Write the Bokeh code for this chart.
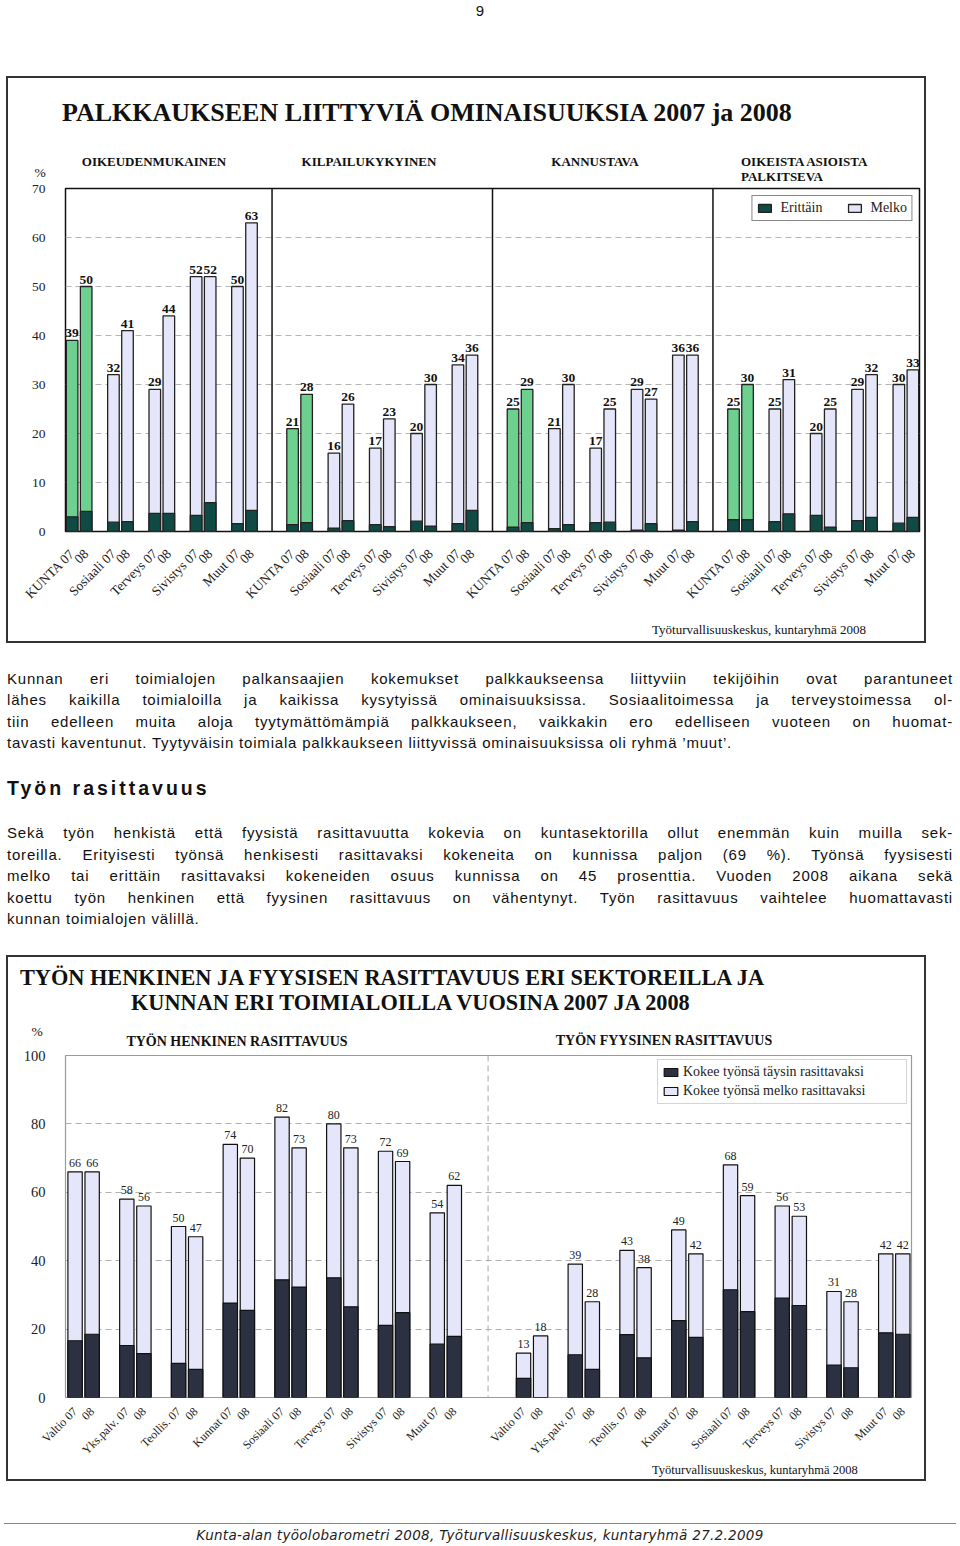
import math
from bokeh.plotting import figure
from bokeh.models import (ColumnDataSource, FixedTicker, Span, Legend,
                          LegendItem, Div, Range1d)
from bokeh.layouts import column
from bokeh.embed import file_html
from bokeh.resources import INLINE
from bokeh.core.properties import value

# ------------------------------------------------------------------ data 1
aspects = ["OIKEUDENMUKAINEN", "KILPAILUKYKYINEN", "KANNUSTAVA",
           "OIKEISTA ASIOISTA", "PALKITSEVA"]
sectors1 = ["KUNTA", "Sosiaali", "Terveys", "Sivistys", "Muut"]
years = ["07", "08"]
# order: KUNTA07, KUNTA08, Sosiaali07, 08, Terveys07, 08, Sivistys07, 08, Muut07, 08
total_oikeud = [39, 50, 32, 41, 29, 44, 52, 52, 50, 63]
erit_oikeud = [3.0, 4.1, 1.9, 2.0, 3.7, 3.7, 3.3, 5.9, 1.6, 4.3]
total_kilp = [21, 28, 16, 26, 17, 23, 20, 30, 34, 36]
erit_kilp = [1.4, 1.8, 0.7, 2.2, 1.4, 1.0, 2.1, 1.1, 1.6, 4.3]
total_kann = [25, 29, 21, 30, 17, 25, 29, 27, 36, 36]
erit_kann = [0.9, 1.8, 0.6, 1.4, 1.8, 1.9, 0.3, 1.6, 0.3, 2.0]
total_palk = [25, 30, 25, 31, 20, 25, 29, 32, 30, 33]
erit_palk = [2.4, 2.4, 2.0, 3.6, 3.3, 0.9, 2.2, 2.9, 1.7, 2.9]
totals1 = [total_oikeud, total_kilp, total_kann, total_palk]
erits1 = [erit_oikeud, erit_kilp, erit_kann, erit_palk]
y1_ticks = [0, 10, 20, 30, 40, 50, 60, 70]
title1 = "PALKKAUKSEEN LIITTYVIÄ OMINAISUUKSIA 2007 ja 2008"
source_txt = "Työturvallisuuskeskus, kuntaryhmä 2008"

# ------------------------------------------------------------------ data 2
sectors2 = ["Valtio", "Yks.palv.", "Teollis.", "Kunnat", "Sosiaali",
            "Terveys", "Sivistys", "Muut"]
# order: Valtio07, 08, Yks07, 08, ...
henk_total = [66, 66, 58, 56, 50, 47, 74, 70, 82, 73, 80, 73, 72, 69, 54, 62]
henk_taysin = [16.6, 18.5, 15.2, 12.8, 10.0, 8.2, 27.6, 25.5, 34.4, 32.3,
               35.0, 26.5, 21.1, 24.8, 15.6, 17.9]
fyys_total = [13, 18, 39, 28, 43, 38, 49, 42, 68, 59, 56, 53, 31, 28, 42, 42]
fyys_taysin = [5.6, 0.0, 12.5, 8.2, 18.4, 11.6, 22.5, 17.6, 31.5, 25.1,
               29.1, 26.9, 9.5, 8.7, 18.9, 18.5]
y2_ticks = [0, 20, 40, 60, 80, 100]
title2a = "TYÖN HENKINEN JA FYYSISEN RASITTAVUUS ERI SEKTOREILLA JA"
title2b = "KUNNAN ERI TOIMIALOILLA VUOSINA 2007 JA 2008"
sub2 = ["TYÖN HENKINEN RASITTAVUUS", "TYÖN FYYSINEN RASITTAVUUS"]

SERIF = "Liberation Serif"
CSS_SERIF = "'Liberation Serif','Times New Roman',serif"
CSS_SANS = "'Liberation Sans',Arial,sans-serif"
DARK1 = "#0f4a44"
GREEN = "#6dd08f"
LAV = "#e6e6fa"
DARK2 = "#2c3142"
BOX = {"border": "2px solid #333"}


def abs_text(left, cy, text, size, bold=False, align="left", font=CSS_SERIF,
             extra=""):
    lh = 14
    top = cy - lh / 2
    if align == "center":
        pos = f"left:{left - 250}px;width:500px;text-align:center;"
    else:
        pos = f"left:{left}px;"
    return (f'<div style="position:absolute;{pos}top:{top}px;height:{lh}px;'
            f'line-height:{lh}px;white-space:nowrap;font-family:{font};'
            f'font-size:{size}px;font-weight:{"bold" if bold else "normal"};'
            f'color:#111;{extra}">{text}</div>')


def box_div(w, h, inner):
    return Div(text=f'<div style="position:relative;width:{w}px;height:{h}px">'
               + inner + "</div>", width=w, height=h, margin=0)


def style_axes(p, ysize, ystand, xsize, xstand):
    for ax in (p.xaxis[0], p.yaxis[0]):
        ax.axis_line_color = None
        ax.major_tick_line_color = None
        ax.minor_tick_line_color = None
        ax.major_tick_out = 0
        ax.major_tick_in = 0
        ax.minor_tick_out = 0
        ax.minor_tick_in = 0
        ax.major_label_text_font = SERIF
        ax.major_label_text_color = "#222"
    p.yaxis.major_label_text_font_size = ysize
    p.yaxis.major_label_standoff = ystand
    p.xaxis.major_label_text_font_size = xsize
    p.xaxis.major_label_standoff = xstand
    p.xaxis.major_label_orientation = math.pi / 4


# ================================================================ chart 1
X1 = (-0.33, 20.33)
PSTEP1 = 16.0 / 3.0
OFF1, W1 = 0.17, 0.28

xs, tot, eri, fill, labs = [], [], [], [], []
for pi in range(4):
    for gi, s in enumerate(sectors1):
        for yi, yr in enumerate(years):
            k = gi * 2 + yi
            xs.append(pi * PSTEP1 + gi + (-OFF1 if yi == 0 else OFF1))
            tot.append(totals1[pi][k])
            eri.append(erits1[pi][k])
            fill.append(GREEN if s == "KUNTA" else LAV)
            labs.append(f"{s} {yr}" if yi == 0 else yr)

p1 = figure(frame_width=854, frame_height=343, x_range=Range1d(*X1),
            y_range=Range1d(0, 70), output_backend="svg",
            toolbar_location=None, title=None,
            min_border_left=57, min_border_right=5, min_border_top=6,
            min_border_bottom=89)
p1.outline_line_color = "#111"
p1.outline_line_width = 1.5

green_src = ColumnDataSource(dict(x=[x for x, f in zip(xs, fill) if f == GREEN],
                                  top=[t for t, f in zip(tot, fill) if f == GREEN]))
lav_src = ColumnDataSource(dict(x=[x for x, f in zip(xs, fill) if f == LAV],
                                top=[t for t, f in zip(tot, fill) if f == LAV]))
all_src = ColumnDataSource(dict(x=xs, top=tot, erit=eri, lab=[str(t) for t in tot]))

p1.vbar(x="x", top="top", bottom=0, width=W1, source=green_src,
        fill_color=GREEN, line_color="#222", line_width=1.3)
r_lav1 = p1.vbar(x="x", top="top", bottom=0, width=W1, source=lav_src,
                 fill_color=LAV, line_color="#222", line_width=1.3)
r_dark1 = p1.vbar(x="x", top="erit", bottom=0, width=W1, source=all_src,
                  fill_color=DARK1, line_color="#222", line_width=1.3)
p1.text(x="x", y="top", text="lab", source=all_src, text_align="center",
        text_baseline="bottom", y_offset=-3, text_font=value(SERIF),
        text_font_size="13.5px", text_font_style="bold", text_color="#111")

sep0 = (4 + PSTEP1) / 2
for k in range(3):
    p1.add_layout(Span(location=sep0 + k * PSTEP1, dimension="height",
                       line_color="#111", line_width=1.5))

p1.xgrid.visible = False
p1.ygrid.ticker = FixedTicker(ticks=y1_ticks[1:-1])
p1.ygrid.grid_line_color = "#b5b5b5"
p1.ygrid.grid_line_dash = "6 4"
p1.ygrid.grid_line_width = 1.2

p1.yaxis.ticker = FixedTicker(ticks=y1_ticks)
p1.xaxis.ticker = FixedTicker(ticks=xs)
p1.xaxis.major_label_overrides = {x: l for x, l in zip(xs, labs)}
style_axes(p1, "13.5px", 20, "13.5px", 20)

leg1 = Legend(items=[LegendItem(label="Erittäin", renderers=[r_dark1]),
                     LegendItem(label="Melko", renderers=[r_lav1])],
              orientation="horizontal", location="top_right", margin=7,
              padding=4, spacing=24, label_standoff=8, glyph_width=16,
              glyph_height=10, border_line_color="#111", border_line_width=1.5,
              label_text_font=SERIF, label_text_font_size="14px",
              label_text_color="#222", background_fill_alpha=1.0)
p1.add_layout(leg1)

# header (page y 78..182, x from 8)
h1 = "".join([
    abs_text(54, 35, title1, 26, True),
    abs_text(146, 84, aspects[0], 13, True, "center"),
    abs_text(361, 84, aspects[1], 13, True, "center"),
    abs_text(587, 84, aspects[2], 13, True, "center"),
    abs_text(733, 84, aspects[3], 13, True),
    abs_text(733, 99, aspects[4], 13, True),
    abs_text(32, 95, "%", 13.5, False, "center"),
])
head1 = box_div(916, 104, h1)
src1 = box_div(916, 21, abs_text(644, 10, source_txt, 13))
chart1 = column(head1, p1, src1, spacing=0, margin=(0, 0, 0, 6), styles=BOX)

# ================================================================ chart 2
X2 = (-0.35, 16.0)
RSHIFT = 8.667
OFF2, W2 = 0.165, 0.277

xs2, tot2, tay2, labs2 = [], [], [], []
for side, (tv, dv) in enumerate([(henk_total, henk_taysin), (fyys_total, fyys_taysin)]):
    for gi, s in enumerate(sectors2):
        for yi, yr in enumerate(years):
            k = gi * 2 + yi
            xs2.append(side * RSHIFT + gi + (-OFF2 if yi == 0 else OFF2))
            tot2.append(tv[k])
            tay2.append(dv[k])
            labs2.append(f"{s} {yr}" if yi == 0 else yr)

src2 = ColumnDataSource(dict(x=xs2, top=tot2, tay=tay2, lab=[str(t) for t in tot2]))

p2 = figure(frame_width=846, frame_height=342, x_range=Range1d(*X2),
            y_range=Range1d(0, 100), output_backend="svg",
            toolbar_location=None, title=None,
            min_border_left=57, min_border_right=13, min_border_top=8,
            min_border_bottom=64)
p2.outline_line_color = "#9a9a9a"
p2.outline_line_width = 1.2

r_lav2 = p2.vbar(x="x", top="top", bottom=0, width=W2, source=src2,
                 fill_color=LAV, line_color="#111", line_width=1.2)
r_dark2 = p2.vbar(x="x", top="tay", bottom=0, width=W2, source=src2,
                  fill_color=DARK2, line_color="#111", line_width=1.2)
p2.text(x="x", y="top", text="lab", source=src2, text_align="center",
        text_baseline="bottom", y_offset=-5, text_font=value(SERIF),
        text_font_size="12px", text_color="#222")
# dashed left wall of the right-hand panel
p2.add_layout(Span(location=RSHIFT - 0.85, dimension="height",
                   line_color="#aaaaaa", line_width=1, line_dash="6 4"))

p2.xgrid.visible = False
p2.ygrid.ticker = FixedTicker(ticks=y2_ticks[1:-1])
p2.ygrid.grid_line_color = "#b0b0b0"
p2.ygrid.grid_line_dash = "6 4"
p2.ygrid.grid_line_width = 1.1

p2.yaxis.ticker = FixedTicker(ticks=y2_ticks)
p2.xaxis.ticker = FixedTicker(ticks=xs2)
p2.xaxis.major_label_overrides = {x: l for x, l in zip(xs2, labs2)}
style_axes(p2, "14.5px", 20, "12px", 12)

leg2 = Legend(items=[LegendItem(label="Kokee työnsä täysin rasittavaksi", renderers=[r_dark2]),
                     LegendItem(label="Kokee työnsä melko rasittavaksi", renderers=[r_lav2])],
              orientation="vertical", location="top_right", margin=4,
              padding=4, spacing=3, label_standoff=4, glyph_width=17,
              glyph_height=10, label_width=219,
              border_line_color="#aaaaaa", border_line_width=1,
              label_text_font=SERIF, label_text_font_size="14px",
              label_text_color="#222", background_fill_alpha=1.0)
p2.add_layout(leg2)

# header (page y 957..1047, x from 8)
h2 = "".join([
    abs_text(12, 21, title2a, 22.3, True),
    abs_text(123, 46, title2b, 22.3, True),
    abs_text(229, 85, sub2[0], 14, True, "center"),
    abs_text(656, 84, sub2[1], 14, True, "center"),
    abs_text(29, 75, "%", 13.5, False, "center"),
])
head2 = box_div(916, 90, h2)
src2d = box_div(916, 15, abs_text(644, 6, source_txt, 12.5))
chart2 = column(head2, p2, src2d, spacing=0, margin=(0, 0, 0, 6), styles=BOX)

# ================================================================ text blocks
para1 = [
    "Kunnan eri toimialojen palkansaajien kokemukset palkkaukseensa liittyviin tekijöihin ovat parantuneet",
    "lähes kaikilla toimialoilla ja kaikissa kysytyissä ominaisuuksissa. Sosiaalitoimessa ja terveystoimessa ol-",
    "tiin edelleen muita aloja tyytymättömämpiä palkkaukseen, vaikkakin ero edelliseen vuoteen on huomat-",
    "tavasti kaventunut. Tyytyväisin toimiala palkkaukseen liittyvissä ominaisuuksissa oli ryhmä ’muut’.",
]
heading = "Työn rasittavuus"
para2 = [
    "Sekä työn henkistä että fyysistä rasittavuutta kokevia on kuntasektorilla ollut enemmän kuin muilla sek-",
    "toreilla. Erityisesti työnsä henkisesti rasittavaksi kokeneita on kunnissa paljon (69 %). Työnsä fyysisesti",
    "melko tai erittäin rasittavaksi kokeneiden osuus kunnissa on 45 prosenttia. Vuoden 2008 aikana sekä",
    "koettu työn henkinen että fyysinen rasittavuus on vähentynyt. Työn rasittavuus vaihtelee huomattavasti",
    "kunnan toimialojen välillä.",
]


def line_html(top, h, text, justify, size=15, weight="normal", spacing=0.8):
    align = ("text-align:justify;text-align-last:justify;" if justify
             else "text-align:left;")
    return (f'<div style="position:absolute;left:0;top:{top}px;width:946px;'
            f'height:{h}px;line-height:{h}px;font-family:{CSS_SANS};'
            f'font-size:{size}px;font-weight:{weight};letter-spacing:{spacing}px;'
            f'color:#111;{align}">{text}</div>')


parts = []
for i, (t, txt) in enumerate(zip([25, 46, 68, 89], para1)):
    parts.append(line_html(t, 21, txt, i < len(para1) - 1))
parts.append(line_html(133, 24, heading, False, 19.5, "bold", 3))
for i, (t, txt) in enumerate(zip([179, 201, 222, 244, 265], para2)):
    parts.append(line_html(t, 21, txt, i < len(para2) - 1))
text_div = Div(text='<div style="position:relative;width:946px;height:312px">'
               + "".join(parts) + "</div>", width=946, height=312,
               margin=(0, 0, 0, 7))

top_div = Div(text='<div style="position:relative;width:960px;height:76px">'
              f'<div style="position:absolute;top:2px;left:0;width:960px;text-align:center;'
              f'font-family:{CSS_SANS};font-size:15px;line-height:17px;color:#111">9</div></div>',
              width=960, height=76, margin=0)

foot_div = Div(text='<div style="position:relative;width:960px;height:64px">'
               '<div style="position:absolute;top:42px;left:4px;width:952px;'
               'border-top:1px solid #888"></div>'
               '<div style="position:absolute;top:47px;left:0;width:960px;text-align:center;'
               "font-family:'DejaVu Sans',sans-serif;font-style:italic;font-size:13.5px;"
               'line-height:14px;letter-spacing:0.3px;color:#222">'
               'Kunta-alan työolobarometri 2008, Työturvallisuuskeskus, kuntaryhmä 27.2.2009'
               '</div></div>', width=960, height=64, margin=0)

layout = column(top_div, chart1, text_div, chart2, foot_div, spacing=0)

with open("out.html", "w") as f:
    f.write(file_html(layout, INLINE))
